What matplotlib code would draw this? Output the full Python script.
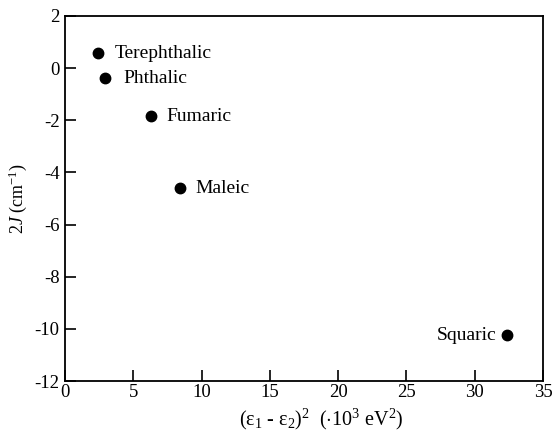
import numpy as np
import matplotlib.pyplot as plt

plt.rcParams['font.family'] = ['Liberation Serif', 'DejaVu Serif']
plt.rcParams['mathtext.fontset'] = 'custom'
plt.rcParams['mathtext.rm'] = 'Liberation Serif'
plt.rcParams['mathtext.it'] = 'Liberation Serif:italic'
plt.rcParams['axes.unicode_minus'] = False

acids = ['Terephthalic', 'Phthalic', 'Fumaric', 'Maleic', 'Squaric']
de2 = [2.4, 2.95, 6.3, 8.45, 32.4]
twoJ = [0.58, -0.38, -1.84, -4.6, -10.24]
label_dx = [12, 13, 11, 11, -8]  # offset in points

fig = plt.figure(figsize=(5.54, 4.34), dpi=100)
ax = fig.add_axes([65/554, 1-381/434, 478/554, 365/434])

ax.plot(de2, twoJ, 'o', color='black', markersize=7.5, linestyle='none')
for name, x, y, dx in zip(acids, de2, twoJ, label_dx):
	ax.annotate(name, (x, y), xytext=(dx, 0), textcoords='offset points',
		ha='left' if dx > 0 else 'right', va='center', fontsize=14)

ax.set_xlim(0, 35)
ax.set_ylim(-12, 2)
ax.set_xticks(np.arange(0, 36, 5))
ax.set_yticks(np.arange(-12, 3, 2))
ax.tick_params(direction='in', length=8, width=1.2, labelsize=13.5, top=False, right=False)
ax.tick_params(axis='x', pad=2)
ax.tick_params(axis='y', pad=4)
for s in ax.spines.values():
	s.set_linewidth(1.3)

ax.set_xlabel(r'(ε$_1$ - ε$_2$)$^2$  ($\cdot$10$^3$ eV$^2$)', fontsize=14.5)
ax.xaxis.set_label_coords((321 - 65) / 478, -0.07)
ax.set_ylabel(r'2$J$ (cm$^{-1}$)', fontsize=13, labelpad=4)

fig.savefig('out.png', dpi=100)
